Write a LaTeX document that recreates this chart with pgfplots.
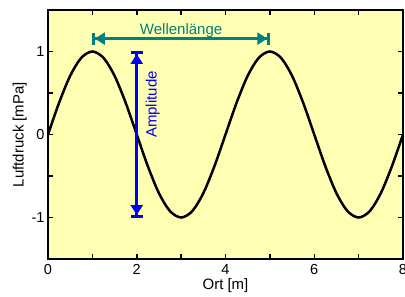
\documentclass[border=0pt]{standalone}
\usepackage{pgfplots}
\pgfplotsset{compat=1.18}
\usepackage{fontspec}
\setmainfont{Liberation Sans}
\usetikzlibrary{arrows.meta}
\definecolor{bgyel}{RGB}{255,255,180}
\definecolor{teal2}{RGB}{0,128,128}
\begin{document}
\begin{tikzpicture}
\begin{axis}[
  scale only axis, width=355pt, height=249pt,
  xmin=0, xmax=8, ymin=-1.5, ymax=1.5,
  xtick={0,2,4,6,8}, minor xtick={1,3,5,7},
  ytick={-1,0,1}, minor ytick={-0.5,0.5},
  tick align=inside, major tick length=5pt, minor tick length=5pt,
  tick style={black, line width=1.5pt},
  axis line style={line width=1.8pt},
  axis background/.style={fill=bgyel},
  xlabel={Ort [m]}, ylabel={Luftdruck [mPa]},
  xlabel style={yshift=3pt},
  ylabel style={yshift=-2pt},
  xticklabel style={yshift=-2pt},
  ticklabel style={font=\fontsize{14.5}{16}\selectfont},
  label style={font=\fontsize{15}{17}\selectfont},
  /pgf/number format/assume math mode=true,
  clip=false,
]
\addplot[black, line width=2.5pt, smooth] coordinates {
(0,0) (0.25,0.3827) (0.5,0.7071) (0.75,0.9239) (1,1) (1.25,0.9239) (1.5,0.7071) (1.75,0.3827)
(2,0) (2.25,-0.3827) (2.5,-0.7071) (2.75,-0.9239) (3,-1) (3.25,-0.9239) (3.5,-0.7071) (3.75,-0.3827)
(4,0) (4.25,0.3827) (4.5,0.7071) (4.75,0.9239) (5,1) (5.25,0.9239) (5.5,0.7071) (5.75,0.3827)
(6,0) (6.25,-0.3827) (6.5,-0.7071) (6.75,-0.9239) (7,-1) (7.25,-0.9239) (7.5,-0.7071) (7.75,-0.3827)
(8,0)
};
\draw[teal2, line width=3.3pt, {Bar[width=12pt,line width=2.5pt]Triangle[width=12pt,length=10pt]}-{Triangle[width=12pt,length=10pt]Bar[width=12pt,line width=2.5pt]}]
  (axis cs:1,1.155) -- (axis cs:5,1.155);
\node[teal2, font=\fontsize{15}{17}\selectfont] at (axis cs:3,1.25) {Wellenlänge};
\draw[blue, line width=3.3pt, {Bar[width=12pt,line width=2.5pt]Triangle[width=12pt,length=10pt]}-{Triangle[width=12pt,length=10pt]Bar[width=12pt,line width=2.5pt]}]
  (axis cs:2,-1) -- (axis cs:2,1);
\node[blue, rotate=90, font=\fontsize{15}{17}\selectfont] at (axis cs:2.36,0.36) {Amplitude};
\end{axis}
\pgfresetboundingbox
\path (current axis.south west) ++(-48pt,-37pt) coordinate (bbA);
\path (current axis.north east) ++(2pt,10pt) coordinate (bbB);
\useasboundingbox (bbA) rectangle (bbB);
\end{tikzpicture}
\end{document}
